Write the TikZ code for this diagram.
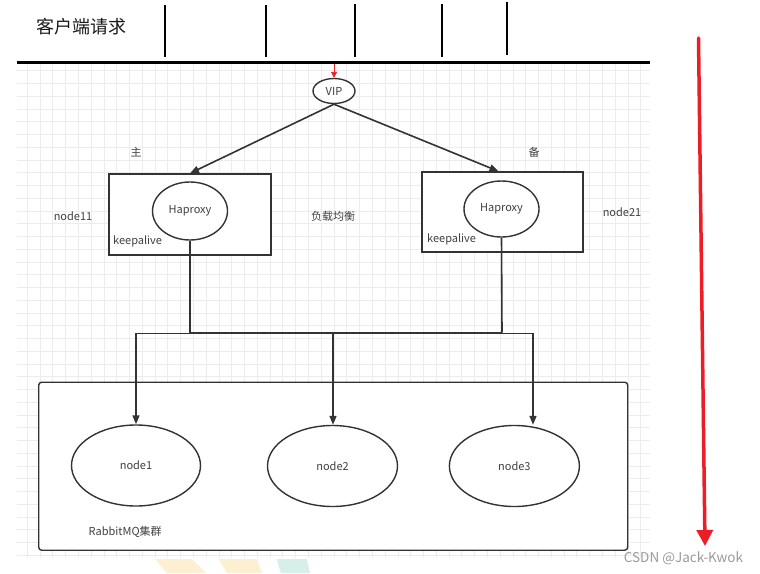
\documentclass[tikz,border=0pt]{standalone}
\usepackage{fontspec}
\setmainfont{Noto Sans CJK SC}
\usetikzlibrary{shapes.geometric,arrows.meta}
\definecolor{ink}{HTML}{333333}
\definecolor{gridc}{HTML}{ECECEC}
\definecolor{redc}{HTML}{EE1C25}
\definecolor{txt}{HTML}{404040}
\definecolor{wm}{HTML}{9A9A9A}
\definecolor{wmy}{HTML}{FDEFD2}
\definecolor{wmt}{HTML}{D6EFE9}
\tikzset{
  boxn/.style={draw=ink, line width=1.4pt, fill=white, inner sep=0pt},
  oval/.style={ellipse, draw=ink, line width=1.4pt, fill=white, inner sep=0pt,
    font=\fontsize{11}{13}\selectfont, text=txt},
  lbl/.style={font=\fontsize{11}{13}\selectfont, text=txt, inner sep=0pt},
  arr/.style={draw=ink, line width=1.6pt, -{Triangle[length=9pt,width=7pt]}},
  wire/.style={draw=ink, line width=1.6pt},
  tick/.style={draw=black, line width=1.8pt},
}
\begin{document}
\begin{tikzpicture}[x=1pt,y=-1pt]
\useasboundingbox (0,0) rectangle (760,573);
% grid
\begin{scope}
  \clip (17,62) rectangle (650,558);
  \foreach \i in {0,...,50} \draw[gridc, line width=0.8pt] ({14.5+12.78*\i},62) -- ({14.5+12.78*\i},558);
  \foreach \j in {1,...,39} \draw[gridc, line width=0.8pt] (17,{57.95+12.75*\j}) -- (650,{57.95+12.75*\j});
\end{scope}
% watermark shapes
\fill[wmy] (155,559) -- (191.7,559) -- (206,573) -- (166.7,573) -- cycle;
\fill[wmy] (219,559) -- (256.7,559) -- (262,573) -- (227,573) -- cycle;
\fill[wmt] (276.7,559) -- (306.7,559) -- (310,573) -- (280.7,573) -- cycle;
% top
\node[font=\fontsize{18}{20}\selectfont, text=black!90, inner sep=0pt] (title) at (81,27) {客户端请求};
\coordinate (tl) at (17,62);
\coordinate (tr) at (650,62);
\draw[line width=3pt, black] (tl) -- (tr);
\foreach \x/\a/\b [count=\k] in {165/5/57, 266/5/57, 355/4/57, 442/4/57, 507/2/55} {
  \coordinate (ta\k) at (\x,\a);
  \coordinate (tb\k) at (\x,\b);
  \draw[tick] (ta\k) -- (tb\k);
}
% VIP
\node[oval, minimum width=42pt, minimum height=25pt] (vip) at (334,91) {VIP};
\coordinate (vin) at (334,63.5);
\draw[redc, line width=0.9pt, -{Triangle[length=6pt,width=6pt]}] (vin) -- (vip.north);
% boxes
\node[boxn, minimum width=162pt, minimum height=81pt] (boxL) at (190,214.5) {};
\node[boxn, minimum width=161pt, minimum height=80pt] (boxR) at (502.5,212) {};
\node[oval, minimum width=75pt, minimum height=58pt] (haL) at (190,211) {Haproxy};
\node[oval, minimum width=75pt, minimum height=56pt] (haR) at (501.5,209) {Haproxy};
\node[lbl, anchor=west] (kaL) at (113,241.7) {keepalive};
\node[lbl, anchor=west] (kaR) at (427,239) {keepalive};
\draw[arr] (vip.south) -- (boxL.north);
\draw[arr] (vip.south) -- ([xshift=-4pt]boxR.north);
% labels
\node[lbl] (zhu) at (136,152) {主};
\node[lbl] (bei) at (534,152) {备};
\node[lbl] (fz) at (333,216) {负载均衡};
\node[lbl] (n11) at (73,216) {node11};
\node[lbl] (n21) at (622,212) {node21};
% cluster
\node[boxn, rounded corners=3pt, minimum width=589pt, minimum height=168pt] (clu) at (333.2,466.2) {};
\node[oval, minimum width=129pt, minimum height=81pt] (n1) at (136,465.5) {node1};
\node[oval, minimum width=130pt, minimum height=81pt] (n2) at (332.5,466) {node2};
\node[oval, minimum width=130pt, minimum height=81pt] (n3) at (514.4,466) {node3};
\node[lbl, anchor=west] (rmq) at (88.5,531.7) {RabbitMQ集群};
% wiring
\coordinate (jR) at (502,332.7);
\draw[wire] (haL.south) |- (jR);
\draw[wire] (haR.south) -- (jR);
\coordinate (d1) at (136,333.3);
\coordinate (d2) at (333,333.3);
\coordinate (d3) at (533,333.3);
\draw[wire] (d1) -- (d3);
\draw[arr] (d1) -- (d1 |- n1.north);
\draw[arr] (d2) -- (d2 |- n2.north);
\draw[arr] (d3) -- (d3 |- n3.north);
% red arrow
\coordinate (r1) at (698.5,38);
\coordinate (r2) at (705,546);
\draw[redc, line width=3.5pt, line cap=round, -{Triangle[length=16pt,width=16pt]}] (r1) -- (r2);
\node[font=\fontsize{13.5}{15}\selectfont, text=wm, inner sep=0pt] (wmk) at (683.5,558) {CSDN @Jack-Kwok};
\end{tikzpicture}
\end{document}
